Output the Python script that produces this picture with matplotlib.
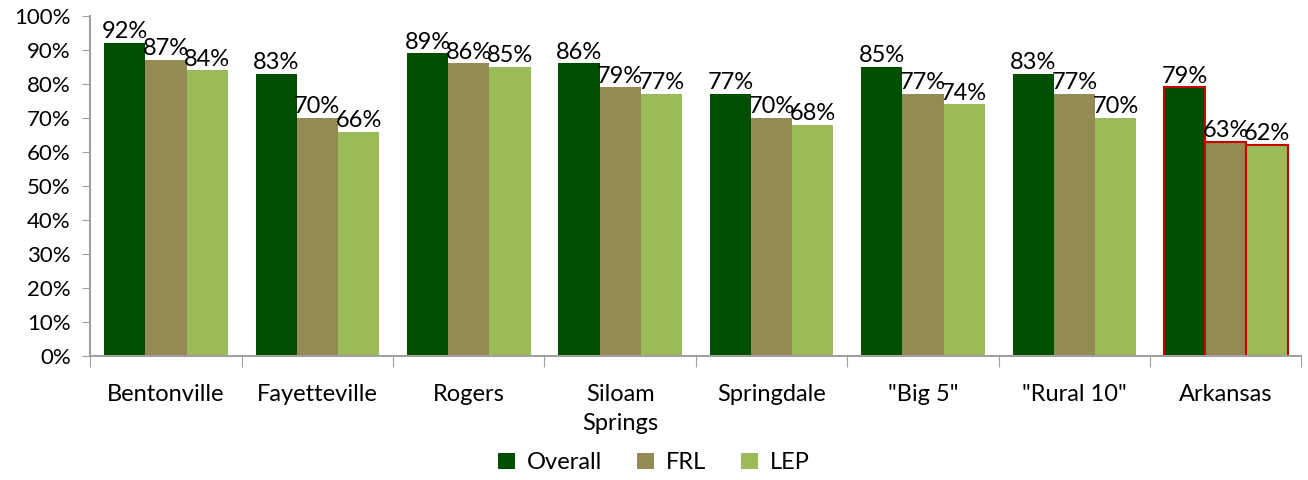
import matplotlib.pyplot as plt
import numpy as np

plt.rcParams['font.family'] = ['Lato', 'DejaVu Sans']

categories = ['Bentonville', 'Fayetteville', 'Rogers', 'Siloam\nSprings', 'Springdale',
              '"Big 5"', '"Rural 10"', 'Arkansas']
overall = [92, 83, 89, 86, 77, 85, 83, 79]
frl = [87, 70, 86, 79, 70, 77, 77, 63]
lep = [84, 66, 85, 77, 68, 74, 70, 62]

series = [('Overall', overall, '#004f00'),
          ('FRL', frl, '#948a54'),
          ('LEP', lep, '#9bbb59')]

fig = plt.figure(figsize=(13.08, 4.8), dpi=100)
ax = fig.add_axes([0.069, 0.258, 0.926, 0.709])

x = np.arange(len(categories))
w = 0.272
for i, (name, vals, col) in enumerate(series):
    pos = x + (i - 1) * w
    edges = [col] * (len(vals) - 1) + ['#cc0000']
    lws = [0] * (len(vals) - 1) + [1.5]
    ax.bar(pos, vals, w, color=col, edgecolor=edges, linewidth=lws, label=name)
    for p, v in zip(pos, vals):
        ax.text(p, v + 0.2, f'{v}%', ha='center', va='bottom', fontsize=17)

ax.set_xlim(-0.5, len(categories) - 0.5)
ax.set_ylim(0, 100)
ax.set_yticks(np.arange(0, 101, 10))
ax.set_yticklabels([f'{t}%' for t in range(0, 101, 10)])
ax.set_xticks(np.arange(-0.5, len(categories), 1), minor=False)
ax.set_xticklabels([])
ax.set_xticks(x, minor=True)
ax.set_xticklabels(categories, minor=True, fontsize=17, linespacing=1.5)
ax.tick_params(axis='x', which='minor', length=0, pad=20)
ax.tick_params(axis='x', which='major', length=8, color='#a0a0a0', direction='out')
ax.tick_params(axis='y', length=6, color='#a0a0a0', labelsize=16, pad=8)

for s in ['top', 'right']:
    ax.spines[s].set_visible(False)
for s in ['left', 'bottom']:
    ax.spines[s].set_color('#a0a0a0')
    ax.spines[s].set_linewidth(1.5)

fig.legend(loc='lower center', bbox_to_anchor=(0.5, -0.03), ncol=3, frameon=False,
           fontsize=17, handlelength=0.7, handleheight=0.7, handletextpad=0.5,
           columnspacing=1.5)

fig.savefig('out.png', dpi=100)
